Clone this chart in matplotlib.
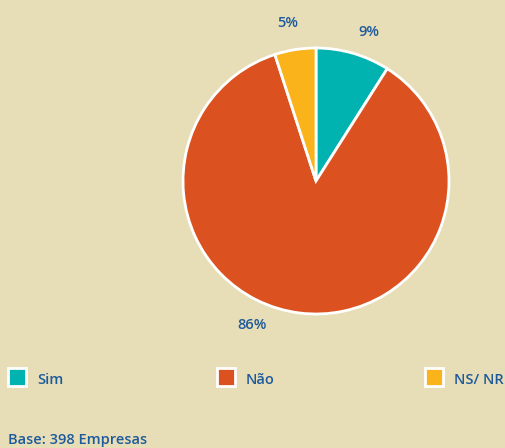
import numpy as np
import matplotlib.pyplot as plt
from matplotlib.patches import Rectangle

categories = ["Sim", "Não", "NS/ NR"]
values = [9, 86, 5]
colors = ["#00B3B1", "#DC5120", "#FAB31A"]

bg = "#E7DEB7"
txt = "#1D5A9C"

W, H = 506, 448
fig = plt.figure(figsize=(W / 100, H / 100), dpi=100)
fig.patch.set_facecolor(bg)
ax = fig.add_axes([0, 0, 1, 1])

cx, cy, r = 316, H - 181, 133
ax.pie(values, colors=colors, startangle=90, counterclock=False,
       center=(cx, cy), radius=r, frame=True,
       wedgeprops=dict(edgecolor="white", linewidth=2))
ax.set_xlim(0, W)
ax.set_ylim(0, H)
ax.set_aspect("equal")
ax.axis("off")

font = dict(family=["Open Sans", "DejaVu Sans"], fontsize=10.5, fontweight="semibold", color=txt)

# percentage labels
label_pos = {"Sim": (369, 32), "Não": (252, 325), "NS/ NR": (288, 23)}
for cat, v in zip(categories, values):
    x, y = label_pos[cat]
    ax.text(x, H - y, f"{v}%", ha="center", va="center", **font)

# legend
leg_x = [8, 217, 425]
for cat, col, x in zip(categories, colors, leg_x):
    ax.add_patch(Rectangle((x, H - 386), 18, 18, facecolor=col,
                           edgecolor="white", linewidth=2))
    ax.text(x + 29, H - 380, cat, ha="left", va="center", **font)

ax.text(8, H - 440, "Base: 398 Empresas", ha="left", va="center", **font)

fig.savefig("out.png", dpi=100, facecolor=bg)
